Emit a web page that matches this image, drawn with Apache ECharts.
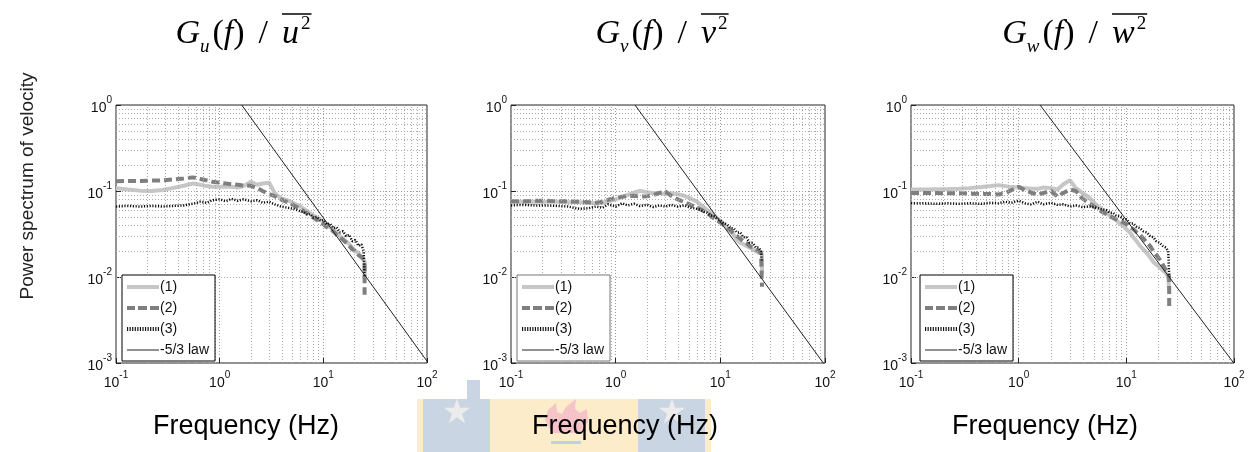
<!DOCTYPE html>
<html>
<head>
<meta charset="utf-8">
<script src="https://cdn.jsdelivr.net/npm/echarts@6/dist/echarts.min.js"></script>
<style>
  html, body { margin: 0; padding: 0; background: #fff; }
  #main { width: 1258px; height: 452px; }
</style>
</head>
<body>
<div id="main"></div>
<script>
// frequency bins (Hz), shared by all spectra; last bin repeated for the end drop
var freq = [0.1, 0.13, 0.17, 0.22, 0.28, 0.35, 0.45, 0.55, 0.65, 0.75, 0.85, 1.0, 1.15, 1.3, 1.5, 1.7, 2.0, 2.3, 2.6, 3.0,
    3.4, 3.9, 4.5, 5.2, 6.0, 6.5, 7.0, 7.5, 8.0, 8.7, 9.4, 10, 10.8, 11.6, 12.5, 13.4, 14.4, 15.5, 16.6, 17.8,
    19, 20.4, 21.8, 23.3, 24.5, 25, 25];

// Gu(f)/u^2
var u1 = [0.108, 0.104, 0.101, 0.100, 0.103, 0.108, 0.115, 0.122, 0.118, 0.114, 0.112, 0.112, 0.113, 0.112, 0.110, 0.114, 0.128, 0.118, 0.122, 0.125,
    0.095, 0.082, 0.078, 0.072, 0.066, 0.062, 0.058, 0.055, 0.052, 0.049, 0.046, 0.044, 0.041, 0.038, 0.035, 0.033, 0.030, 0.028, 0.026, 0.024,
    0.022, 0.020, 0.019, 0.017, 0.016, 0.015, 0.010];
var u2 = [0.130, 0.131, 0.131, 0.132, 0.133, 0.136, 0.140, 0.144, 0.138, 0.133, 0.128, 0.125, 0.122, 0.120, 0.118, 0.116, 0.115, 0.108, 0.100, 0.092,
    0.087, 0.080, 0.074, 0.068, 0.062, 0.058, 0.055, 0.052, 0.049, 0.046, 0.043, 0.041, 0.038, 0.036, 0.034, 0.031, 0.029, 0.027, 0.025, 0.023,
    0.021, 0.020, 0.018, 0.017, 0.016, 0.015, 0.0062];
var u3 = [0.066, 0.067, 0.066, 0.067, 0.066, 0.067, 0.068, 0.071, 0.075, 0.073, 0.078, 0.080, 0.076, 0.081, 0.077, 0.080, 0.076, 0.078, 0.073, 0.075,
    0.070, 0.066, 0.064, 0.062, 0.058, 0.057, 0.053, 0.054, 0.049, 0.050, 0.045, 0.046, 0.041, 0.042, 0.037, 0.038, 0.033, 0.034, 0.030, 0.031,
    0.026, 0.027, 0.023, 0.024, 0.020, 0.019, 0.010];

// Gv(f)/v^2
var v1 = [0.074, 0.075, 0.075, 0.075, 0.075, 0.074, 0.074, 0.073, 0.072, 0.073, 0.076, 0.080, 0.085, 0.090, 0.096, 0.100, 0.097, 0.094, 0.095, 0.092,
    0.094, 0.092, 0.088, 0.082, 0.075, 0.069, 0.064, 0.060, 0.056, 0.052, 0.048, 0.045, 0.041, 0.037, 0.034, 0.031, 0.027, 0.025, 0.024, 0.023,
    0.022, 0.021, 0.020, 0.019, 0.019, 0.018, 0.011];
var v2 = [0.076, 0.076, 0.077, 0.077, 0.076, 0.076, 0.075, 0.074, 0.073, 0.075, 0.079, 0.083, 0.086, 0.087, 0.088, 0.086, 0.087, 0.090, 0.095, 0.098,
    0.088, 0.080, 0.075, 0.069, 0.064, 0.061, 0.058, 0.055, 0.052, 0.048, 0.045, 0.043, 0.040, 0.037, 0.035, 0.032, 0.030, 0.028, 0.026, 0.025,
    0.023, 0.022, 0.021, 0.020, 0.019, 0.019, 0.0077];
var v3 = [0.068, 0.069, 0.068, 0.068, 0.067, 0.066, 0.062, 0.063, 0.066, 0.064, 0.070, 0.066, 0.072, 0.068, 0.071, 0.067, 0.069, 0.065, 0.068, 0.066,
    0.069, 0.066, 0.068, 0.064, 0.062, 0.060, 0.057, 0.056, 0.052, 0.051, 0.047, 0.046, 0.042, 0.041, 0.037, 0.037, 0.033, 0.033, 0.029, 0.029,
    0.025, 0.025, 0.022, 0.022, 0.020, 0.020, 0.015];

// Gw(f)/w^2
var w1 = [0.104, 0.104, 0.105, 0.105, 0.106, 0.108, 0.111, 0.114, 0.117, 0.114, 0.111, 0.110, 0.108, 0.106, 0.106, 0.110, 0.108, 0.104, 0.120, 0.133,
    0.108, 0.095, 0.084, 0.070, 0.060, 0.056, 0.052, 0.049, 0.046, 0.042, 0.039, 0.036, 0.033, 0.029, 0.026, 0.023, 0.021, 0.019, 0.017, 0.015,
    0.014, 0.013, 0.012, 0.011, 0.010, 0.0095, 0.007];
var w2 = [0.095, 0.095, 0.095, 0.094, 0.094, 0.093, 0.092, 0.092, 0.091, 0.094, 0.102, 0.112, 0.102, 0.096, 0.090, 0.095, 0.100, 0.086, 0.095, 0.104,
    0.100, 0.082, 0.072, 0.064, 0.057, 0.054, 0.051, 0.049, 0.047, 0.045, 0.043, 0.041, 0.038, 0.036, 0.033, 0.031, 0.028, 0.025, 0.023, 0.020,
    0.018, 0.016, 0.014, 0.012, 0.011, 0.0098, 0.0045];
var w3 = [0.072, 0.072, 0.071, 0.072, 0.071, 0.072, 0.071, 0.073, 0.072, 0.075, 0.073, 0.077, 0.072, 0.070, 0.075, 0.070, 0.073, 0.069, 0.070, 0.066,
    0.068, 0.065, 0.066, 0.064, 0.061, 0.060, 0.056, 0.056, 0.052, 0.051, 0.047, 0.047, 0.042, 0.042, 0.038, 0.037, 0.034, 0.033, 0.030, 0.029,
    0.026, 0.025, 0.023, 0.022, 0.020, 0.019, 0.010];

// -5/3 law reference line: where it leaves the top edge, and its value at 100 Hz
var lawTopF = [1.63, 1.53, 1.58];
var lawEndY = [0.00105, 0.00094, 0.00099];

var legendNames = ['(1)', '(2)', '(3)', '-5/3 law'];
var components = ['u', 'v', 'w'];
var panelSpectra = [[u1, u2, u3], [v1, v2, v3], [w1, w2, w3]];

// minor grid positions (2..9 within each decade)
var mant = [2, 3, 4, 5, 6, 7, 8, 9];
var decX = [0.1, 1, 10];
var decY = [0.001, 0.01, 0.1];

var panels = [
    {left: 116, width: 311, legLeft: 122, legBorder: '#000', titleSplit: 282, xlab: 246},
    {left: 511, width: 314, legLeft: 517, legBorder: '#777', titleSplit: 701, xlab: 625},
    {left: 911, width: 323, legLeft: 920, legBorder: '#000', titleSplit: 1112, xlab: 1045}
];

var font = 'Liberation Sans, Arial, sans-serif';
var serif = 'Liberation Serif, Times New Roman, serif';
var titleSize = 34, scriptSize = 19;

function pairs(f, v) {
    var out = [];
    for (var i = 0; i < v.length; i++) out.push([f[i], v[i]]);
    return out;
}
function powLabel(v) {
    var e = Math.round(Math.log10(v));
    return '{b|10}{s|' + e + '}';
}
var labelRich = {
    b: {fontSize: 14, fontFamily: font, color: '#111', lineHeight: 20, verticalAlign: 'bottom'},
    s: {fontSize: 10, fontFamily: font, color: '#111', lineHeight: 20, verticalAlign: 'top'}
};
// width of the squared term, used for the overline
var measureCtx = document.createElement('canvas').getContext('2d');
function textW(str, css) { measureCtx.font = css; return measureCtx.measureText(str).width; }

// legend icons drawn as thick line samples (32 x 4)
var dotted = 'path://';
for (var k = 0; k < 32; k += 2.6) dotted += 'M' + k.toFixed(1) + ',0H' + (k + 1.2).toFixed(1) + 'V4H' + k.toFixed(1) + 'Z';
var legendData = [
    {name: '(1)', icon: 'path://M0,0H32V4H0Z'},
    {name: '(2)', icon: 'path://M0,0H8V4H0Z M11,0H20V4H11Z M23,0H32V4H23Z'},
    {name: '(3)', icon: dotted},
    {name: '-5/3 law', icon: 'path://M0,0H32V1H0Z', itemStyle: {color: '#222'}}
];

var minorXLines = [], minorYLines = [];
decX.forEach(function (d) { mant.forEach(function (m) { minorXLines.push({xAxis: +(d * m).toPrecision(3)}); }); });
decY.forEach(function (d) { mant.forEach(function (m) { minorYLines.push({yAxis: +(d * m).toPrecision(3)}); }); });

var grids = [], xAxes = [], yAxes = [], series = [], legends = [], graphics = [];

panels.forEach(function (p, i) {
    grids.push({left: p.left, top: 105, width: p.width, height: 258, show: true,
        borderColor: '#222', borderWidth: 1, backgroundColor: 'transparent'});
    xAxes.push({type: 'log', logBase: 10, gridIndex: i, min: 0.1, max: 100, interval: 1,
        axisLine: {show: false}, axisTick: {show: true, inside: true, length: 5, lineStyle: {color: '#222'}},
        splitLine: {show: true, lineStyle: {color: '#999', type: [1, 2], width: 1}},
        axisLabel: {formatter: powLabel, rich: labelRich, margin: 7}});
    yAxes.push({type: 'log', logBase: 10, gridIndex: i, min: 0.001, max: 1, interval: 1,
        axisLine: {show: false}, axisTick: {show: true, inside: true, length: 5, lineStyle: {color: '#222'}},
        splitLine: {show: true, lineStyle: {color: '#999', type: [1, 2], width: 1}},
        axisLabel: {formatter: powLabel, rich: labelRich, margin: 4}});

    // minor grid
    series.push({type: 'line', xAxisIndex: i, yAxisIndex: i, data: [[0.1, 1]], symbol: 'none', silent: true,
        lineStyle: {opacity: 0}, z: 1,
        markLine: {silent: true, symbol: ['none', 'none'], label: {show: false}, animation: false,
            lineStyle: {color: '#aaa', type: [1, 2], width: 1},
            data: minorXLines.concat(minorYLines)}});

    var s = panelSpectra[i];
    series.push({name: '(1)', type: 'line', xAxisIndex: i, yAxisIndex: i, data: pairs(freq, s[0]),
        symbol: 'none', z: 3, itemStyle: {color: '#c6c6c6'}, lineStyle: {color: '#c6c6c6', width: 4, type: 'solid'}});
    series.push({name: '(2)', type: 'line', xAxisIndex: i, yAxisIndex: i, data: pairs(freq, s[1]),
        symbol: 'none', z: 4, itemStyle: {color: '#7f7f7f'}, lineStyle: {color: '#7f7f7f', width: 4, type: [8, 4]}});
    series.push({name: '(3)', type: 'line', xAxisIndex: i, yAxisIndex: i, data: pairs(freq, s[2]),
        symbol: 'none', z: 5, itemStyle: {color: '#111'}, lineStyle: {color: '#111', width: 2.5, type: [1.2, 1.6]}});
    series.push({name: '-5/3 law', type: 'line', xAxisIndex: i, yAxisIndex: i,
        data: [[lawTopF[i], 1], [100, lawEndY[i]]],
        symbol: 'none', z: 6, itemStyle: {color: '#222'}, lineStyle: {color: '#222', width: 1}});

    legends.push({data: legendData, orient: 'vertical', left: p.legLeft, top: 275,
        itemWidth: 32, itemHeight: 4, itemGap: 5, padding: [4, 6, 3, 5],
        backgroundColor: '#fff', borderColor: p.legBorder, borderWidth: 1, borderRadius: 0,
        selectedMode: false, z: 10, itemStyle: {borderWidth: 0},
        textStyle: {fontSize: 14, fontFamily: font, color: '#111', lineHeight: 16, padding: [0, 0, 0, -4]}});

    // panel title: "G_c(f) / " right-aligned at the split, overlined "c^2" after it
    var c = components[i];
    graphics.push({type: 'text', x: p.titleSplit, y: 34, z: 20,
        style: {
            text: '{g|G}{sub|' + c + '}{p|(}{g|f}{p|)}{sl|/}',
            align: 'right', verticalAlign: 'middle',
            rich: {
                g: {fontSize: titleSize, fontFamily: serif, fontStyle: 'italic', lineHeight: 44, verticalAlign: 'middle', fill: '#000'},
                sub: {fontSize: scriptSize, fontFamily: serif, fontStyle: 'italic', lineHeight: 44, verticalAlign: 'bottom', padding: [0, 3, 0, 0], fill: '#000'},
                p: {fontSize: titleSize, fontFamily: serif, lineHeight: 44, verticalAlign: 'middle', fill: '#000'},
                sl: {fontSize: titleSize, fontFamily: serif, lineHeight: 44, verticalAlign: 'middle', padding: [0, 14, 0, 14], fill: '#000'}
            }
        }});
    graphics.push({type: 'text', x: p.titleSplit, y: 34, z: 20,
        style: {
            text: '{g|' + c + '}{sup|2}',
            align: 'left', verticalAlign: 'middle',
            rich: {
                g: {fontSize: titleSize, fontFamily: serif, fontStyle: 'italic', lineHeight: 44, verticalAlign: 'middle', fill: '#000'},
                sup: {fontSize: scriptSize, fontFamily: serif, lineHeight: 44, verticalAlign: 'top', padding: [3, 0, 0, 2], fill: '#000'}
            }
        }});
    var ow = textW(c, 'italic ' + titleSize + 'px ' + serif) + textW('2', scriptSize + 'px ' + serif) + 3;
    graphics.push({type: 'line', z: 20, shape: {x1: p.titleSplit, y1: 14, x2: p.titleSplit + ow, y2: 14},
        style: {stroke: '#000', lineWidth: 1.5}});

    // x axis title
    graphics.push({type: 'text', x: p.xlab, y: 427, z: 20,
        style: {text: 'Frequency (Hz)', fontSize: 27, fontFamily: font, fill: '#000', align: 'center', verticalAlign: 'middle'}});
});

// y axis title
graphics.push({type: 'text', x: 28, y: 186, rotation: Math.PI / 2, z: 20,
    style: {text: 'Power spectrum of velocity', fontSize: 19, fontFamily: font, fill: '#222', align: 'center', verticalAlign: 'middle'}});

// faded crest watermark at the bottom
graphics.push({type: 'rect', z: 0, shape: {x: 417, y: 399, width: 294, height: 53}, style: {fill: '#fdecc9'}});
graphics.push({type: 'rect', z: 0, shape: {x: 423, y: 399, width: 67, height: 53}, style: {fill: '#c9d5e3'}});
graphics.push({type: 'rect', z: 0, shape: {x: 467, y: 380, width: 13, height: 20}, style: {fill: '#c9d5e3'}});
graphics.push({type: 'rect', z: 0, shape: {x: 638, y: 399, width: 67, height: 53}, style: {fill: '#c9d5e3'}});
graphics.push({type: 'text', z: 0, x: 457, y: 414, style: {text: '\u2605', fontSize: 34, fontFamily: 'DejaVu Sans', fill: '#ececec', align: 'center', verticalAlign: 'middle'}});
graphics.push({type: 'text', z: 0, x: 672, y: 414, style: {text: '\u2605', fontSize: 34, fontFamily: 'DejaVu Sans', fill: '#ececec', align: 'center', verticalAlign: 'middle'}});
graphics.push({type: 'polygon', z: 0, shape: {points: [[552, 433], [545, 420], [548, 410], [556, 403], [557, 412], [562, 414],
    [566, 407], [576, 399], [575, 409], [580, 413], [587, 409], [588, 421], [584, 429], [578, 433]]},
    style: {fill: '#f6c3c9'}});
graphics.push({type: 'rect', z: 0, shape: {x: 551, y: 441, width: 30, height: 3}, style: {fill: '#c2d0e0'}});

var myChart = echarts.init(document.getElementById('main'));
var option = {
    backgroundColor: '#fff',
    animation: false,
    grid: grids,
    xAxis: xAxes,
    yAxis: yAxes,
    legend: legends,
    series: series,
    graphic: graphics
};
myChart.setOption(option);
</script>
</body>
</html>
